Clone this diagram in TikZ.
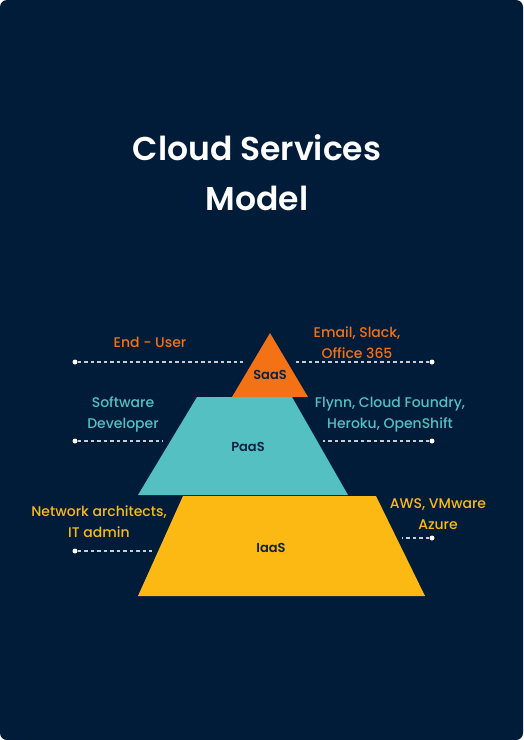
\documentclass[tikz,border=0pt]{standalone}
\usepackage{fontspec}
\setmainfont{Poppins}[UprightFont={* Medium},BoldFont={* SemiBold}]
\usepackage{tikz}

\definecolor{navy}{HTML}{001C38}
\definecolor{saascol}{HTML}{F47216}
\definecolor{paascol}{HTML}{54C0C2}
\definecolor{iaascol}{HTML}{FDB913}
\definecolor{inkcol}{HTML}{0F2340}
\definecolor{dashcol}{HTML}{C9CED6}

\begin{document}
\begin{tikzpicture}[x=1pt,y=-1pt,
    lbl/.style={align=center,font=\fontsize{14}{21}\selectfont,inner sep=0pt},
    tier/.style={font=\bfseries\fontsize{13}{16}\selectfont,text=inkcol,inner sep=0pt},
    dot/.style={circle,fill=white,inner sep=0pt,minimum size=5pt},
    dashline/.style={dashcol,line width=1.3pt,dash pattern=on 3.5pt off 3pt}]
            \fill [white] (0,0) rectangle (523,740);
            \fill [navy,rounded corners=7pt] (0,0) rectangle (523,740);

            \node [align=center,text=white,font=\bfseries\fontsize{33}{50}\selectfont] (title) at (257,173) {Cloud Services\\Model};

            \fill [iaascol] (183,496) -- (376,496) -- (425,596) -- (138,596) -- cycle;
            \fill [paascol] (197,397) -- (292,397) -- (348,495) -- (138,495) -- cycle;
            \fill [saascol] (270,333) -- (308,397) -- (232,397) -- cycle;

            \node [tier] (saas) at (270,375) {SaaS};
            \node [tier] (paas) at (248,447) {PaaS};
            \node [tier] (iaas) at (271,548) {IaaS};

            \node [lbl,text=saascol] (user) at (150,342) {End - User};
            \node [lbl,text=saascol] (apps) at (357,343) {Email, Slack,\\Office 365};
            \node [lbl,text=paascol] (dev) at (123,414) {Software\\Developer};
            \node [lbl,text=paascol] (plat) at (390,415) {Flynn, Cloud Foundry,\\Heroku, OpenShift};
            \node [lbl,text=iaascol] (admin) at (99,522) {Network architects,\\IT admin};
            \node [lbl,text=iaascol] (infra) at (438,514) {AWS, VMware\\Azure};

            \node [dot] (d1) at (75,362) {};
            \node [dot] (d2) at (432,362) {};
            \node [dot] (d3) at (75,441) {};
            \node [dot] (d4) at (432,441) {};
            \node [dot] (d5) at (75,551) {};
            \node [dot] (d6) at (432,538) {};
            \coordinate (e1) at (243,362);
            \coordinate (e2) at (294,362);
            \coordinate (e3) at (163,441);
            \coordinate (e4) at (323,441);
            \coordinate (e5) at (152,551);
            \coordinate (e6) at (402,538);

            \draw [dashline] (d1) -- (e1);
            \draw [dashline] (d2) -- (e2);
            \draw [dashline] (d3) -- (e3);
            \draw [dashline] (d4) -- (e4);
            \draw [dashline] (d5) -- (e5);
            \draw [dashline] (d6) -- (e6);
        \end{tikzpicture}
\end{document}
